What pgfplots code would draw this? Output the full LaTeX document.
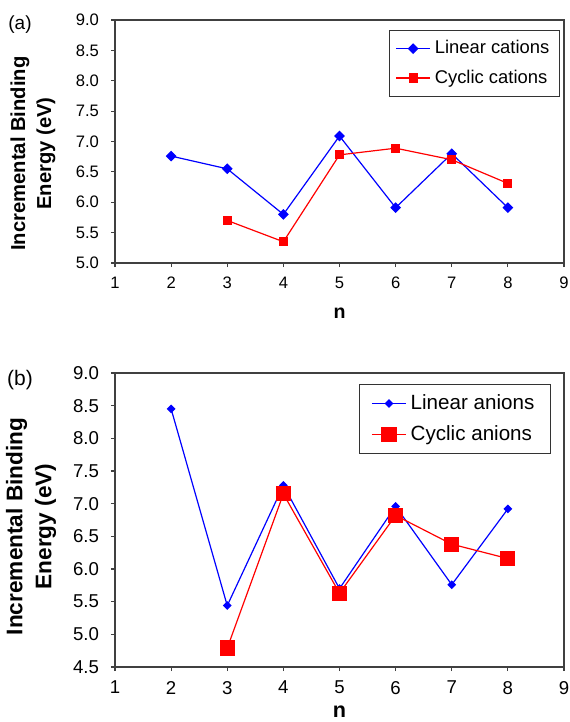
\documentclass[border=0pt]{standalone}
\usepackage{fontspec}
\setmainfont{Liberation Sans}
\usepackage{pgfplots}
\pgfplotsset{compat=1.18}

\definecolor{lineblue}{RGB}{0,0,255}
\definecolor{linered}{RGB}{255,0,0}

\pgfplotsset{
  panel/.style={
    scale only axis,
    width=224.5pt,
    xmin=1, xmax=9,
    xtick={1,2,...,9},
    axis line style={draw=black!75, line width=0.6pt},
    every tick/.style={draw=black!75, line width=0.6pt},
    tick align=outside,
    major tick length=2pt,
    xtick pos=bottom, ytick pos=left,
    /pgf/number format/assume math mode=true,
    yticklabel style={xshift=-2.5pt, /pgf/number format/.cd, fixed, fixed zerofill, precision=1},
    xticklabel style={yshift=-1.5pt},
    xlabel={n},
    xlabel style={anchor=center},
    ylabel={Incremental Binding\\Energy (eV)},
    ylabel style={align=center, anchor=center},
    legend style={anchor=north east, draw=black!80, line width=0.6pt,
      legend cell align=left, row sep=2.5pt, inner xsep=3pt, inner ysep=3pt},
  },
  linser/.style={lineblue, line width=0.6pt, mark=square*, mark options={rotate=45, solid, fill=lineblue}},
  cycser/.style={linered, line width=0.6pt, mark=square*, mark options={solid, fill=linered}},
}

\begin{document}
\begin{tikzpicture}
\useasboundingbox (0pt,0pt) rectangle (284.5pt,-361pt);

\node[font=\fontsize{9.5}{11}\selectfont] at (10pt,-12.5pt) {(a)};
\node[font=\fontsize{10.5}{12}\selectfont] at (10pt,-190pt) {(b)};

% (a) cations
\begin{axis}[panel,
  at={(57.5pt,-131.5pt)}, anchor=south west,
  height=121.5pt,
  ymin=5, ymax=9, ytick={5,5.5,...,9},
  tick label style={font=\fontsize{8.3}{10}\selectfont},
  xlabel style={font=\fontsize{9.8}{12}\selectfont\bfseries, at={(axis description cs:0.5,-0.206)}},
  ylabel style={font=\fontsize{10.1}{13}\selectfont\bfseries, at={(axis description cs:-0.183,0.45)}},
  legend style={font=\fontsize{9.2}{11}\selectfont, at={(axis description cs:0.991,0.959)}},
]
\addplot[linser, mark size=1.6pt] coordinates {
  (2,6.76) (3,6.55) (4,5.80) (5,7.09) (6,5.91) (7,6.80) (8,5.91)
};
\addlegendentry{Linear cations}
\addplot[cycser, mark size=2pt] coordinates {
  (3,5.70) (4,5.35) (5,6.78) (6,6.89) (7,6.70) (8,6.31)
};
\addlegendentry{Cyclic cations}
\end{axis}

% (b) anions
\begin{axis}[panel,
  at={(57.5pt,-333.5pt)}, anchor=south west,
  height=147pt,
  ymin=4.5, ymax=9, ytick={4.5,5,...,9},
  tick label style={font=\fontsize{9.3}{11}\selectfont},
  xlabel style={font=\fontsize{10.8}{12}\selectfont\bfseries, at={(axis description cs:0.5,-0.152)}},
  ylabel style={font=\fontsize{11.3}{14.5}\selectfont\bfseries, at={(axis description cs:-0.187,0.478)}},
  legend style={font=\fontsize{10.3}{12}\selectfont, inner xsep=6pt, at={(axis description cs:0.971,0.963)}},
]
\addplot[linser, mark size=1.25pt] coordinates {
  (2,8.45) (3,5.44) (4,7.28) (5,5.70) (6,6.96) (7,5.76) (8,6.92)
};
\addlegendentry{Linear anions}
\addplot[cycser, mark size=3.5pt] coordinates {
  (3,4.79) (4,7.15) (5,5.63) (6,6.82) (7,6.38) (8,6.16)
};
\addlegendentry{Cyclic anions}
\end{axis}
\end{tikzpicture}
\end{document}
